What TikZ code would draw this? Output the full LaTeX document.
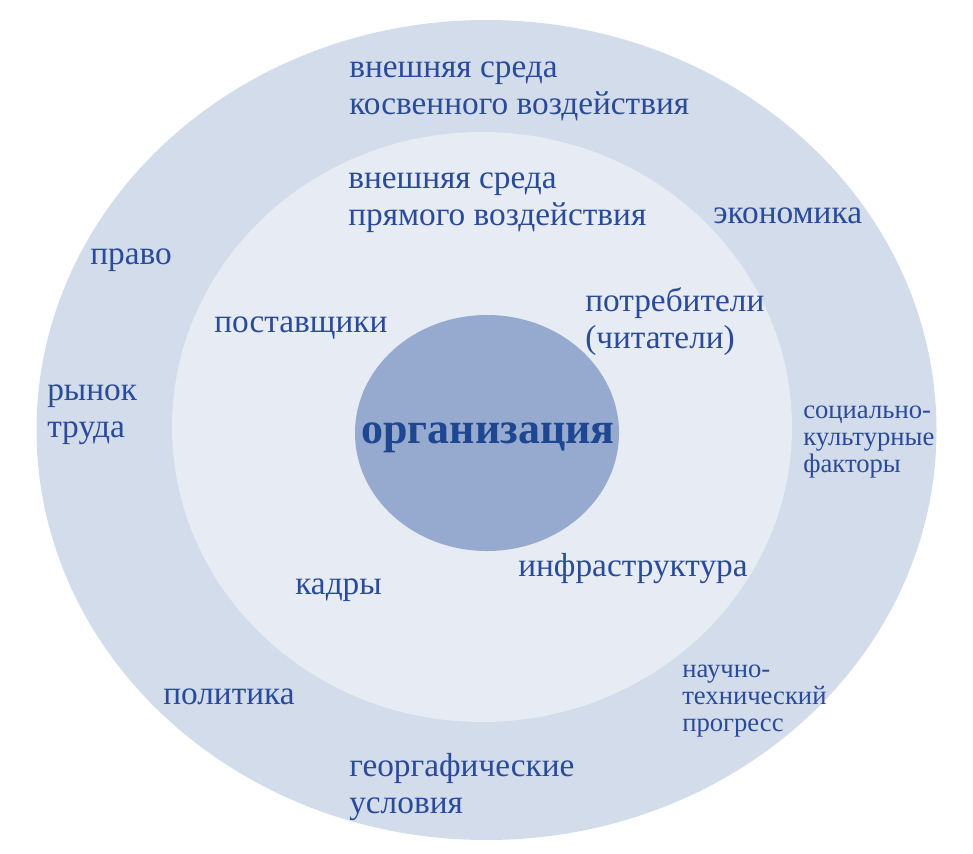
\documentclass[tikz,border=0pt]{standalone}
\usepackage{fontspec}
\setmainfont{Liberation Serif}
\definecolor{outerc}{HTML}{D3DCEB}
\definecolor{innerc}{HTML}{E6EBF4}
\definecolor{corec}{HTML}{96AAD0}
\definecolor{txtc}{HTML}{2A4B9A}
\definecolor{boldc}{HTML}{1F4690}
\tikzset{
  lbl/.style={anchor=west, align=left, text=txtc, inner sep=0pt, font=\fontsize{25}{27.75}\selectfont},
  sml/.style={anchor=west, align=left, text=txtc, inner sep=0pt, font=\fontsize{20}{20}\selectfont},
}
\begin{document}
\begin{tikzpicture}[x=0.75pt,y=-0.75pt]
\useasboundingbox (0,0) rectangle (973,853);
\fill[outerc] (486.5,430) ellipse [x radius=450, y radius=410];
\fill[innerc] (482,427) ellipse [x radius=310, y radius=295];
\fill[corec] (487,433) ellipse [x radius=132, y radius=118];
\node[lbl] (kosv) at (349,91) {внешняя среда\\косвенного воздействия};
\node[lbl] (pryam) at (348,203) {внешняя среда\\прямого воздействия};
\node[lbl] (econ) at (713,216) {экономика};
\node[lbl] (pravo) at (90,260) {право};
\node[lbl] (post) at (214,328) {поставщики};
\node[lbl] (potr) at (585,322) {потребители\\(читатели)};
\node[lbl] (rynok) at (47,415) {рынок\\труда};
\node[anchor=center, text=boldc, inner sep=0pt, font=\fontsize{33}{36}\selectfont\bfseries] (org) at (488,438) {организация};
\node[sml] (soc) at (803,442) {социально-\\культурные\\факторы};
\node[lbl] (kadry) at (295,590) {кадры};
\node[lbl] (infra) at (518,569) {инфраструктура};
\node[lbl] (polit) at (163,697) {политика};
\node[sml] (nauch) at (682,701) {научно-\\технический\\прогресс};
\node[lbl] (geo) at (349,787) {георгафические\\условия};
\end{tikzpicture}
\end{document}
